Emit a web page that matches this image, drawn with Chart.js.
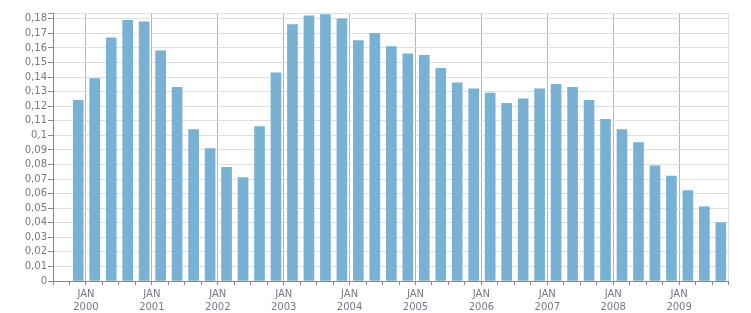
<!DOCTYPE html>
<html>
<head>
<meta charset="utf-8">
<script src="https://cdn.jsdelivr.net/npm/chart.js@4"></script>
<style>
  html, body { margin: 0; padding: 0; background: #fff; }
</style>
</head>
<body>
<canvas id="chart" width="751" height="313"></canvas>
<script>
// quarterly values, first bar mid-Nov 1999, last mid-Aug 2009
const years = ['2000', '2001', '2002', '2003', '2004', '2005', '2006', '2007', '2008', '2009'];
const firstMonth = -1.4; // months from Jan 2000 to the first bar
const values = [
    0.124, 0.139, 0.167, 0.179, 0.178, 0.158, 0.133, 0.104,
    0.091, 0.078, 0.071, 0.106, 0.143, 0.176, 0.182, 0.183,
    0.180, 0.165, 0.170, 0.161, 0.156, 0.155, 0.146, 0.136,
    0.132, 0.129, 0.122, 0.125, 0.132, 0.135, 0.133, 0.124,
    0.111, 0.104, 0.095, 0.079, 0.072, 0.062, 0.051, 0.040
];
const yMax = 0.184;
const yStep = 0.01;
const xMin = -6;
const xMax = 116.9;

const textColor = '#777788';
const axisColor = '#888888';
const font = { family: 'DejaVu Sans', size: 10, lineHeight: 1.3 };

const points = values.map((v, i) => ({ x: firstMonth + 3 * i, y: v }));

function fmt(v) {
    return String(Number(v.toFixed(2))).replace('.', ',');
}

new Chart(document.getElementById('chart'), {
    type: 'bar',
    data: {
        datasets: [{
            data: points,
            backgroundColor: '#78b1d3',
            borderWidth: 0,
            barThickness: 10
        }]
    },
    options: {
        responsive: false,
        animation: false,
        layout: { padding: { top: 13, right: 23, bottom: 0, left: 0 } },
        plugins: { legend: { display: false }, tooltip: { enabled: false } },
        scales: {
            x: {
                type: 'linear',
                min: xMin,
                max: xMax,
                offset: false,
                afterBuildTicks: axis => {
                    const t = [];
                    for (let m = xMin; m <= 114; m += 3) t.push({ value: m });
                    t.push({ value: xMax });
                    axis.ticks = t;
                },
                afterFit: s => { s.height = 32; },
                ticks: {
                    autoSkip: false,
                    maxRotation: 0,
                    color: textColor,
                    font: font,
                    padding: 3,
                    callback: v => (v >= 0 && v % 12 === 0) ? ['JAN', years[v / 12]] : ''
                },
                grid: {
                    offset: false,
                    color: ctx => {
                        const v = ctx.tick ? ctx.tick.value : 0;
                        if (v === xMax) return '#dddddd';
                        if (v >= 0 && v % 12 === 0) return '#b4b4b4';
                        return 'rgba(0,0,0,0)';
                    },
                    tickColor: axisColor,
                    tickLength: 4
                },
                border: { color: axisColor }
            },
            y: {
                min: 0,
                max: yMax,
                afterBuildTicks: axis => {
                    const t = [];
                    for (let i = 0; i <= 18; i++) t.push({ value: i * yStep });
                    t.push({ value: yMax });
                    axis.ticks = t;
                },
                afterFit: s => { s.width = 53; },
                ticks: {
                    autoSkip: false,
                    color: textColor,
                    font: font,
                    padding: 1,
                    callback: v => Math.abs(v - yMax) < 1e-9 ? '' : fmt(v)
                },
                grid: {
                    color: '#dedede',
                    tickColor: axisColor,
                    tickLength: 5
                },
                border: { color: axisColor }
            }
        }
    }
});
</script>
</body>
</html>
